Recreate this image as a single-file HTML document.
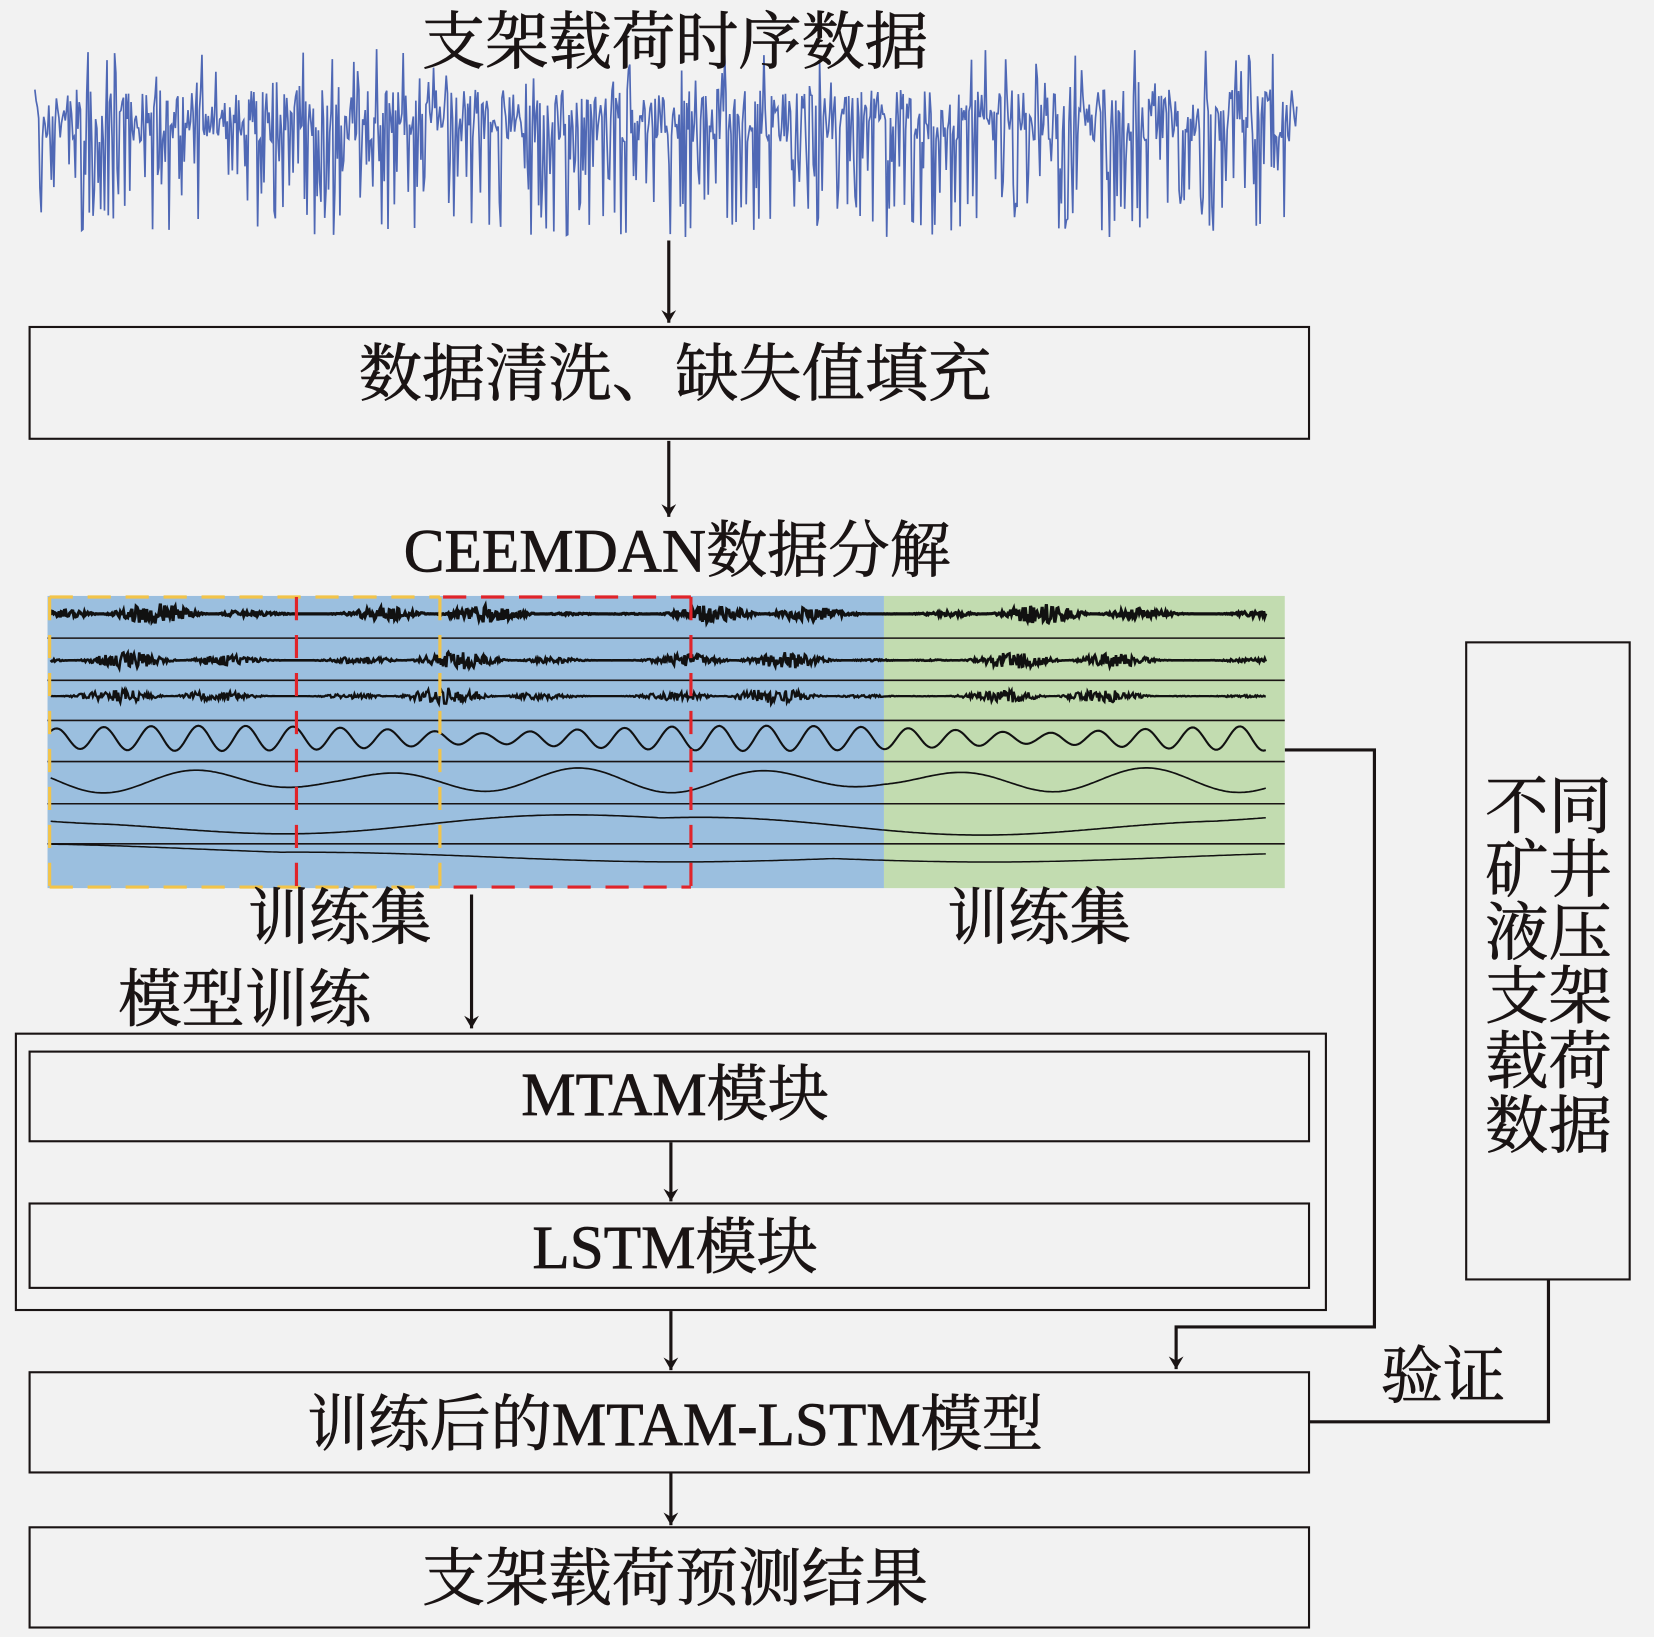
<!DOCTYPE html>
<html><head><meta charset="utf-8"><style>
html,body{margin:0;padding:0;background:#f2f2f2;}
svg{display:block;}
text{font-family:"Liberation Serif","Noto Serif CJK SC",serif;fill:#1a1414;stroke:#1a1414;stroke-width:0.7px;font-weight:normal;}
</style></head><body>
<svg id="s" width="1654" height="1637" viewBox="0 0 1568 1552" xmlns="http://www.w3.org/2000/svg">
<defs>
<marker id="b" viewBox="0 0 12 14" markerWidth="12" markerHeight="14" refX="12" refY="7" orient="auto" markerUnits="userSpaceOnUse"><path d="M0,0 L12,7 L0,14 L4,7 Z" fill="#1a1414"/></marker></defs>
<rect width="1568" height="1552" fill="#f2f2f2"/>
<g id="sig"></g>
<text x="640" y="60" font-size="60" text-anchor="middle">支架载荷时序数据</text>
<g stroke="#1a1414" stroke-width="3" fill="none">
<line x1="634" y1="228" x2="634" y2="306" marker-end="url(#b)"/>
<line x1="634" y1="418" x2="634" y2="490" marker-end="url(#b)"/>
<line x1="447" y1="848" x2="447" y2="975" marker-end="url(#b)"/>
<line x1="636" y1="1083" x2="636" y2="1139" marker-end="url(#b)"/>
<line x1="636" y1="1243" x2="636" y2="1299" marker-end="url(#b)"/>
<line x1="636" y1="1397" x2="636" y2="1446" marker-end="url(#b)"/>
<polyline points="1218,711 1303,711 1303,1258 1115,1258 1115,1298" marker-end="url(#b)"/>
<polyline points="1468,1213 1468,1348 1241,1348"/>
</g>
<g stroke="#1a1414" stroke-width="2" fill="none">
<rect x="28" y="310" width="1213" height="106"/>
<rect x="15" y="980" width="1242" height="262"/>
<rect x="28" y="997" width="1213" height="85"/>
<rect x="28" y="1141" width="1213" height="80"/>
<rect x="28" y="1301" width="1213" height="95"/>
<rect x="28" y="1448" width="1213" height="95"/>
<rect x="1390" y="609" width="155" height="604"/>
</g>
<text x="640" y="375" font-size="60" text-anchor="middle">数据清洗、缺失值填充</text>
<text x="642" y="542" font-size="58" text-anchor="middle">CEEMDAN数据分解</text>
<rect x="45" y="565" width="793" height="277" fill="#9bbfdf"/>
<rect x="838" y="565" width="380" height="277" fill="#c2dcb0"/>
<g id="imf"></g>
<g stroke-width="3" fill="none" stroke-dasharray="22,14">
<line x1="47" y1="566" x2="417" y2="566" stroke="#f2c44a"/>
<line x1="47" y1="841" x2="417" y2="841" stroke="#f2c44a"/>
<line x1="47" y1="566" x2="47" y2="841" stroke="#f2c44a"/>
<line x1="417" y1="566" x2="417" y2="841" stroke="#f2c44a"/>
<line x1="420" y1="566" x2="655" y2="566" stroke="#e0242a"/>
<line x1="430" y1="841" x2="655" y2="841" stroke="#e0242a"/>
<line x1="281" y1="566" x2="281" y2="841" stroke="#e0242a"/>
<line x1="655" y1="566" x2="655" y2="841" stroke="#e0242a"/>
</g>
<text x="322" y="890" font-size="58" text-anchor="middle">训练集</text>
<text x="985" y="890" font-size="58" text-anchor="middle">训练集</text>
<text x="112" y="968" font-size="60">模型训练</text>
<text x="640" y="1057" font-size="58" text-anchor="middle">MTAM模块</text>
<text x="640" y="1202" font-size="58" text-anchor="middle">LSTM模块</text>
<text x="640" y="1370" font-size="58" text-anchor="middle">训练后的MTAM-LSTM模型</text>
<text x="640" y="1517" font-size="60" text-anchor="middle">支架载荷预测结果</text>
<text x="1368" y="1325" font-size="59" text-anchor="middle">验证</text>
<g font-size="60" text-anchor="middle">
<text x="1468" y="785">不同</text><text x="1468" y="845">矿井</text><text x="1468" y="905">液压</text>
<text x="1468" y="965">支架</text><text x="1468" y="1027">载荷</text><text x="1468" y="1088">数据</text>
</g>
</svg>
<script>
var seed=7;function r(){seed=(seed*16807)%2147483647;return seed/2147483647;}
var ns="http://www.w3.org/2000/svg";
var p=[];for(var x=33;x<=1230;x+=1.2){var y=85+r()*50;if(r()<0.25)y=150+r()*75;if(r()<0.05)y=45+r()*40;p.push(x.toFixed(1)+","+y.toFixed(1));}
var pl=document.createElementNS(ns,"polyline");pl.setAttribute("points",p.join(" "));pl.setAttribute("fill","none");pl.setAttribute("stroke","#4f68b5");pl.setAttribute("stroke-width","1.6");document.getElementById("sig").appendChild(pl);
var g=document.getElementById("imf");
var lines=[605,645,683,722,762,800];
lines.forEach(function(y){var l=document.createElementNS(ns,"line");l.setAttribute("x1",45);l.setAttribute("x2",1218);l.setAttribute("y1",y);l.setAttribute("y2",y);l.setAttribute("stroke","#1a1414");l.setAttribute("stroke-width","1.5");g.appendChild(l);});
var rows=[[582,10,0.9,3],[626,9,0.6,2.5],[660,8,0.45,2.2],[700,12,0.14,2],[740,12,0.035,1.6],[780,12,0.009,1.5],[810,10,0.004,1.4]];
rows.forEach(function(rw,i){var pts=[];var ph=r()*6;for(var x=48;x<=1200;x+=(i<3?1:2)){var amp;if(i<3){amp=rw[1]*Math.pow(Math.abs(Math.sin(x*0.03+ph)*Math.sin(x*0.011)),1.5)*(r());var y=rw[0]+(r()<0.5?-1:1)*amp;}else{amp=rw[1]*(0.4+0.6*Math.abs(Math.sin(x*0.006+ph)));var y=rw[0]+amp*Math.sin(x*rw[2]+ph);}pts.push(x+","+y.toFixed(1));}
var l=document.createElementNS(ns,"polyline");l.setAttribute("points",pts.join(" "));l.setAttribute("fill","none");l.setAttribute("stroke","#111");l.setAttribute("stroke-width",rw[3]);g.appendChild(l);});
</script>
</body></html>
